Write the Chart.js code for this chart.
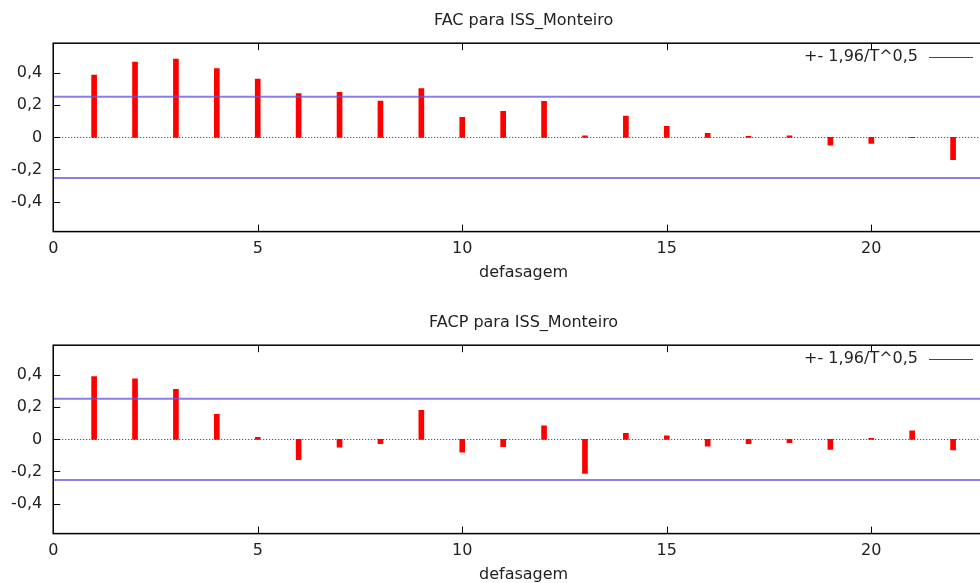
<!DOCTYPE html>
<html lang="pt">
<head>
  <meta charset="UTF-8">
  <title>FAC e FACP para ISS_Monteiro</title>
  <script src="https://cdn.jsdelivr.net/npm/chart.js"></script>
  <style>
    html, body {
      margin: 0;
      padding: 0;
      background: white;
      overflow: hidden;
      width: 980px;
      height: 583px;
    }
    .box {
      position: absolute;
      left: 0;
      width: 1000px;
      height: 292px;
    }
    #boxFac { top: 0; }
    #boxFacp { top: 302px; }
  </style>
</head>
<body>

  <div class="box" id="boxFac"><canvas id="facChart"></canvas></div>
  <div class="box" id="boxFacp"><canvas id="facpChart"></canvas></div>

  <script>
    // defasagens (lags)
    const lags = [1, 2, 3, 4, 5, 6, 7, 8, 9, 10, 11, 12, 13, 14, 15, 16, 17, 18, 19, 20, 21, 22];

    // FAC
    const facValues = [0.388, 0.469, 0.488, 0.429, 0.363, 0.273, 0.281, 0.227, 0.304, 0.125,
                       0.163, 0.225, 0.010, 0.133, 0.069, 0.025, 0.006, 0.010, -0.048, -0.038,
                       -0.002, -0.139];

    // FACP
    const facpValues = [0.392, 0.377, 0.312, 0.157, 0.013, -0.126, -0.048, -0.027, 0.182, -0.080,
                        -0.046, 0.084, -0.212, 0.038, 0.023, -0.042, -0.027, -0.021, -0.063, 0.006,
                        0.053, -0.065];

    const banda = 0.253;          // 1,96 / sqrt(T)
    const bandaLabel = '+- 1,96/T^0,5';
    const xTicks = [0, 5, 10, 15, 20];
    const yTicks = [-0.4, -0.2, 0, 0.2, 0.4];
    const xMin = 0, xMax = 23;
    const yMin = -0.5875, yMax = 0.5875;

    const fonte = "'DejaVu Sans', Verdana, sans-serif";
    const tamanho = 16;
    const azul = 'rgba(100, 84, 220, 0.75)';

    // desenha moldura, marcas internas, linha zero e legenda estilo gnuplot
    const estiloGnuplot = {
      id: 'estiloGnuplot',
      beforeDatasetsDraw(chart) {
        const { ctx, chartArea: a, scales: { y } } = chart;
        ctx.save();
        // linha zero pontilhada
        const y0 = Math.round(y.getPixelForValue(0)) + 0.5;
        ctx.strokeStyle = '#333';
        ctx.lineWidth = 1;
        ctx.setLineDash([1, 2]);
        ctx.beginPath();
        ctx.moveTo(a.left, y0);
        ctx.lineTo(a.right, y0);
        ctx.stroke();
        ctx.restore();
      },
      afterDatasetsDraw(chart) {
        const { ctx, chartArea: a, scales: { x, y } } = chart;
        ctx.save();
        ctx.strokeStyle = '#000';
        ctx.lineWidth = 1.5;
        ctx.strokeRect(a.left, a.top, a.right - a.left, a.bottom - a.top);
        ctx.lineWidth = 1;
        ctx.beginPath();
        yTicks.forEach(v => {
          const py = Math.round(y.getPixelForValue(v)) + 0.5;
          ctx.moveTo(a.left, py);
          ctx.lineTo(a.left + 7, py);
        });
        xTicks.forEach(v => {
          const px = Math.round(x.getPixelForValue(v)) + 0.5;
          ctx.moveTo(px, a.bottom);
          ctx.lineTo(px, a.bottom - 7);
          ctx.moveTo(px, a.top);
          ctx.lineTo(px, a.top + 7);
        });
        ctx.stroke();

        // legenda
        const ly = a.top + 14;
        ctx.font = tamanho + 'px ' + fonte;
        ctx.fillStyle = '#222';
        ctx.textAlign = 'right';
        ctx.textBaseline = 'middle';
        ctx.fillText(bandaLabel, 918, ly);
        ctx.strokeStyle = '#3c2fd0';
        ctx.lineWidth = 1;
        ctx.beginPath();
        ctx.moveTo(929, Math.round(ly) + 0.5);
        ctx.lineTo(973, Math.round(ly) + 0.5);
        ctx.stroke();
        ctx.restore();
      }
    };

    function criarGrafico(id, titulo, valores) {
      return new Chart(document.getElementById(id), {
        data: {
          datasets: [
            {
              type: 'bar',
              label: titulo,
              data: lags.map((l, i) => ({ x: l, y: valores[i] })),
              backgroundColor: '#ff0000',
              barThickness: 5,
              order: 2
            },
            {
              type: 'line',
              label: bandaLabel,
              data: [{ x: xMin, y: banda }, { x: xMax, y: banda }],
              borderColor: azul,
              borderWidth: 2,
              pointRadius: 0,
              order: 1
            },
            {
              type: 'line',
              label: bandaLabel,
              data: [{ x: xMin, y: -banda }, { x: xMax, y: -banda }],
              borderColor: azul,
              borderWidth: 2,
              pointRadius: 0,
              order: 1
            }
          ]
        },
        options: {
          responsive: true,
          maintainAspectRatio: false,
          animation: false,
          layout: { padding: { left: 0, right: 6, bottom: 9.5, top: 0 } },
          plugins: {
            legend: { display: false },
            tooltip: { enabled: false },
            title: {
              display: true,
              text: titulo,
              fullSize: false,
              color: '#222',
              font: { family: fonte, size: tamanho, weight: 'normal' },
              padding: { top: 11, bottom: 13 }
            }
          },
          scales: {
            x: {
              type: 'linear',
              min: xMin,
              max: xMax,
              offset: false,
              grid: { display: false, drawTicks: false },
              border: { display: false },
              afterBuildTicks: s => { s.ticks = xTicks.map(v => ({ value: v })); },
              ticks: {
                color: '#222',
                font: { family: fonte, size: tamanho },
                padding: 8,
                maxRotation: 0,
                callback: v => String(v)
              },
              title: {
                display: true,
                text: 'defasagem',
                color: '#222',
                font: { family: fonte, size: tamanho },
                padding: { top: -3.5, bottom: 0 }
              }
            },
            y: {
              min: yMin,
              max: yMax,
              grid: { display: false, drawTicks: false },
              border: { display: false },
              afterBuildTicks: s => { s.ticks = yTicks.map(v => ({ value: v })); },
              ticks: {
                color: '#222',
                font: { family: fonte, size: tamanho },
                padding: 11,
                callback: v => (Math.abs(v) < 1e-9 ? '0' : v.toFixed(1).replace('.', ','))
              }
            }
          }
        },
        plugins: [estiloGnuplot]
      });
    }

    criarGrafico('facChart', 'FAC para ISS_Monteiro', facValues);
    criarGrafico('facpChart', 'FACP para ISS_Monteiro', facpValues);
  </script>
</body>
</html>
